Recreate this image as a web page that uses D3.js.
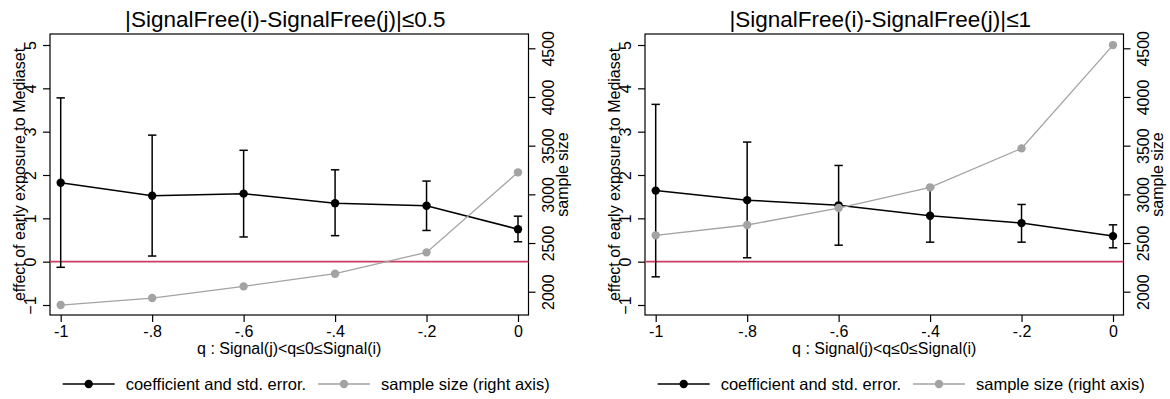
<!DOCTYPE html>
<html lang="en">
<head>
    <meta charset="UTF-8">
    <title>Early exposure to Mediaset</title>
    <script src="https://d3js.org/d3.v7.min.js"></script>
    <style>
        body { margin: 0; background: #fff; }
        svg { display: block; font-family: "Liberation Sans", Arial, sans-serif; }
        .axis path, .axis line { stroke: #000; stroke-width: 1.2; }
        .axis text { font-size: 16px; fill: #000; }
    </style>
</head>
<body>
<script>
    const width = 1170;
    const height = 399;

    // data
    const qValues = [-1, -0.8, -0.6, -0.4, -0.2, 0];

    const titles = ["|SignalFree(i)-SignalFree(j)|≤0.5", "|SignalFree(i)-SignalFree(j)|≤1"];

    const coefA = [1.82, 1.52, 1.57, 1.35, 1.29, 0.75];
    const lowA  = [-0.13, 0.13, 0.57, 0.60, 0.72, 0.46];
    const highA = [3.78, 2.92, 2.57, 2.12, 1.86, 1.05];
    const sizeA = [1863, 1935, 2055, 2185, 2404, 3226];

    const coefB = [1.64, 1.42, 1.30, 1.06, 0.89, 0.59];
    const lowB  = [-0.35, 0.09, 0.38, 0.45, 0.45, 0.32];
    const highB = [3.63, 2.76, 2.22, 1.71, 1.32, 0.85];
    const sizeB = [2579, 2685, 2859, 3072, 3472, 4533];

    const leftTicks = [-1, 0, 1, 2, 3, 4, 5];
    const rightTicks = [2000, 2500, 3000, 3500, 4000, 4500];

    const yTitle = "effect of early exposure to Mediaset";
    const yTitleRight = "sample size";
    const xTitle = "q : Signal(j)<q≤0≤Signal(i)";
    const legendLabels = ["coefficient and std. error.", "sample size (right axis)"];

    const panels = [
        {title: titles[0], coef: coefA, low: lowA, high: highA, size: sizeA},
        {title: titles[1], coef: coefB, low: lowB, high: highB, size: sizeB}
    ];

    const panelOffset = 595;
    const frame = {left: 50, right: 528.5, top: 34, bottom: 315};
    const black = "#000";
    const grey = "#a3a3a3";
    const red = "#cc3d63";

    const x = d3.scaleLinear().domain([-1, 0]).range([60.7, 518]);
    const yL = d3.scaleLinear().domain([-1, 5]).range([305, 45]);
    const yR = d3.scaleLinear().domain([2000, 4500]).range([291.7, 48.3]);

    const fmtQ = d => String(+d.toFixed(1)).replace("0.", ".");

    const svg = d3.select("body").append("svg")
        .attr("width", width).attr("height", height);

    panels.forEach(function(p, i) {
        const g = svg.append("g").attr("transform", `translate(${i * panelOffset},0)`);
        const rows = qValues.map((q, k) => ({q: q, coef: p.coef[k], low: p.low[k], high: p.high[k], size: p.size[k]}));

        // title
        g.append("text")
            .attr("x", (frame.left + frame.right) / 2 - 4)
            .attr("y", 27)
            .attr("text-anchor", "middle")
            .style("font-size", "22.5px")
            .text(p.title);

        // frame
        g.append("rect")
            .attr("x", frame.left).attr("y", frame.top)
            .attr("width", frame.right - frame.left).attr("height", frame.bottom - frame.top)
            .attr("fill", "none").attr("stroke", black).attr("stroke-width", 1.2);

        // axes
        const xAxis = g.append("g").attr("class", "axis")
            .attr("transform", `translate(0,${frame.bottom})`)
            .call(d3.axisBottom(x).tickValues(qValues).tickFormat(fmtQ).tickSize(7).tickSizeOuter(0));
        xAxis.select(".domain").remove();
        xAxis.selectAll("text").attr("y", 0).attr("dy", 0)
            .attr("transform", "translate(0,22)");

        const leftAxis = g.append("g").attr("class", "axis")
            .attr("transform", `translate(${frame.left},0)`)
            .call(d3.axisLeft(yL).tickValues(leftTicks).tickFormat(d3.format("d")).tickSize(7).tickSizeOuter(0));
        leftAxis.select(".domain").remove();
        leftAxis.selectAll("text").attr("x", 0).attr("dy", 0)
            .attr("text-anchor", "middle")
            .attr("transform", "translate(-14,0) rotate(-90)");

        const rightAxis = g.append("g").attr("class", "axis")
            .attr("transform", `translate(${frame.right},0)`)
            .call(d3.axisRight(yR).tickValues(rightTicks).tickFormat(d3.format("d")).tickSize(7).tickSizeOuter(0));
        rightAxis.select(".domain").remove();
        rightAxis.selectAll("text").attr("x", 0).attr("dy", 0)
            .attr("text-anchor", "middle")
            .attr("transform", "translate(25,0) rotate(-90)");

        // axis titles
        g.append("text")
            .attr("transform", `translate(25,${(frame.top + frame.bottom) / 2}) rotate(-90)`)
            .attr("text-anchor", "middle")
            .style("font-size", "16px")
            .text(yTitle);
        g.append("text")
            .attr("transform", `translate(${frame.right + 39},${(frame.top + frame.bottom) / 2}) rotate(-90)`)
            .attr("text-anchor", "middle")
            .style("font-size", "16px")
            .text(yTitleRight);
        g.append("text")
            .attr("x", (frame.left + frame.right) / 2)
            .attr("y", 354)
            .attr("text-anchor", "middle")
            .style("font-size", "16px")
            .text(xTitle);

        // zero line
        g.append("line")
            .attr("x1", frame.left).attr("x2", frame.right)
            .attr("y1", yL(0)).attr("y2", yL(0))
            .attr("stroke", red).attr("stroke-width", 1.8);

        // coefficient line and error bars
        g.append("path").datum(rows)
            .attr("fill", "none").attr("stroke", black).attr("stroke-width", 1.5)
            .attr("d", d3.line().x(d => x(d.q)).y(d => yL(d.coef)));

        const bars = g.append("g").selectAll("g").data(rows).enter().append("g");
        bars.append("line")
            .attr("x1", d => x(d.q)).attr("x2", d => x(d.q))
            .attr("y1", d => yL(d.low)).attr("y2", d => yL(d.high))
            .attr("stroke", black).attr("stroke-width", 1.5);
        ["low", "high"].forEach(function(key) {
            bars.append("line")
                .attr("x1", d => x(d.q) - 4.2).attr("x2", d => x(d.q) + 4.2)
                .attr("y1", d => yL(d[key])).attr("y2", d => yL(d[key]))
                .attr("stroke", black).attr("stroke-width", 1.5);
        });

        g.append("g").selectAll("circle").data(rows).enter().append("circle")
            .attr("cx", d => x(d.q)).attr("cy", d => yL(d.coef))
            .attr("r", 4.2).attr("fill", black);

        // sample size
        g.append("path").datum(rows)
            .attr("fill", "none").attr("stroke", grey).attr("stroke-width", 1.3)
            .attr("d", d3.line().x(d => x(d.q)).y(d => yR(d.size)));
        g.append("g").selectAll("circle").data(rows).enter().append("circle")
            .attr("cx", d => x(d.q)).attr("cy", d => yR(d.size))
            .attr("r", 4.2).attr("fill", grey);

        // legend (two columns, key then label)
        const legend = g.append("g").attr("transform", "translate(0,384)");
        const columns = [62.7, 318];
        [[black, 1.5], [grey, 1.3]].forEach(function(style, k) {
            const lx = columns[k];
            legend.append("line")
                .attr("x1", lx).attr("x2", lx + 52).attr("y1", 0).attr("y2", 0)
                .attr("stroke", style[0]).attr("stroke-width", style[1]);
            legend.append("circle")
                .attr("cx", lx + 26).attr("cy", 0).attr("r", 4.2).attr("fill", style[0]);
            legend.append("text")
                .attr("x", lx + 63).attr("y", 6)
                .style("font-size", "16.5px")
                .text(legendLabels[k]);
        });
    });
</script>
</body>
</html>
